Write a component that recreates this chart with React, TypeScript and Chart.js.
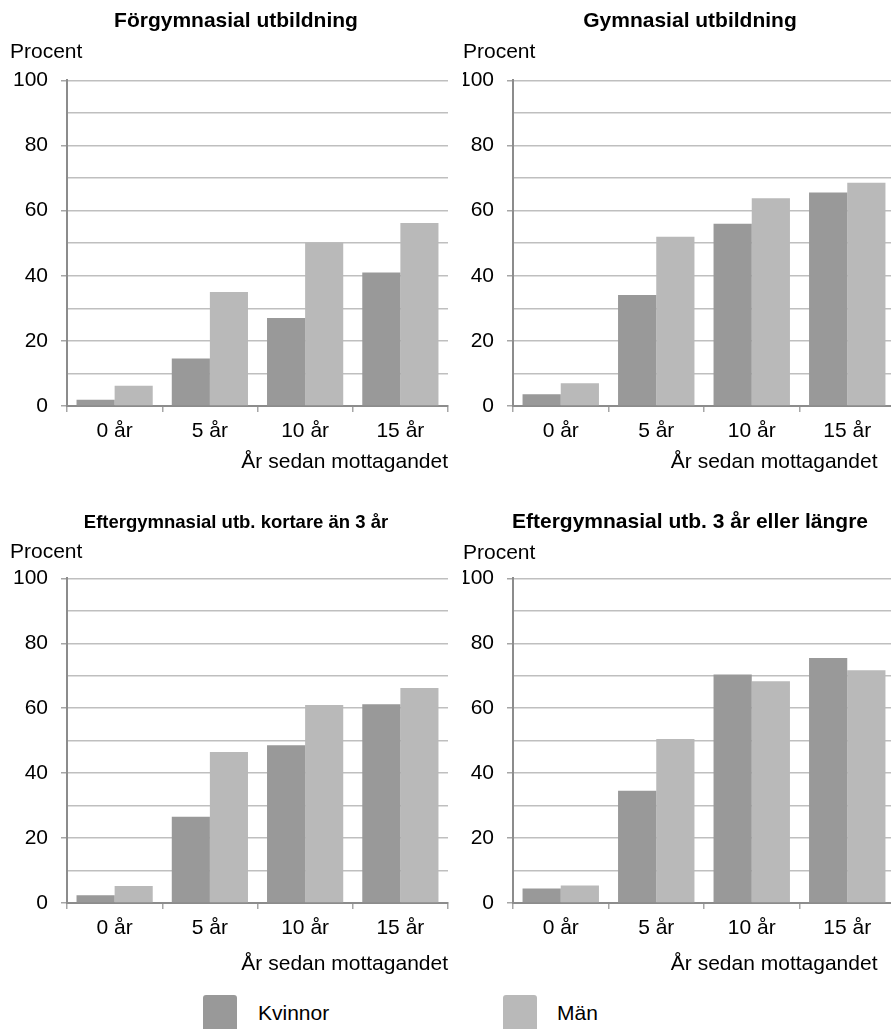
import React, { useEffect, useRef } from "react";
import { Chart, registerables } from "chart.js";

Chart.register(...registerables);

const categories = ["0 år", "5 år", "10 år", "15 år"];
const seriesLabels = ["Kvinnor", "Män"];
const seriesColors = ["#999999", "#b9b9b9"];
const panelTitles = [
  "Förgymnasial utbildning",
  "Gymnasial utbildning",
  "Eftergymnasial utb. kortare än 3 år",
  "Eftergymnasial utb. 3 år eller längre",
];
const forgymnasialKvinnor = [1.9, 14.6, 27.0, 41.0];
const forgymnasialMan = [6.2, 35.0, 50.2, 56.2];
const gymnasialKvinnor = [3.6, 34.1, 56.0, 65.6];
const gymnasialMan = [7.0, 52.0, 63.8, 68.6];
const kortareKvinnor = [2.4, 26.6, 48.6, 61.2];
const kortareMan = [5.2, 46.5, 61.0, 66.2];
const langreKvinnor = [4.5, 34.6, 70.4, 75.5];
const langreMan = [5.4, 50.5, 68.3, 71.7];
const yLabelValues = [0, 20, 40, 60, 80, 100];
const yAxisTitle = "Procent";
const xAxisTitle = "År sedan mottagandet";

const FAMILY = "'Liberation Sans', Arial, sans-serif";
const TEXT_SIZE = 21;

type PanelProps = {
  title: string;
  titleSize: number;
  kvinnor: number[];
  man: number[];
  left: number;
  top: number;
  width: number;
  height: number;
  yAxisWidth: number;
  rightGap: number;
  xAxisHeight: number;
  titlePad: { top: number; bottom: number };
  subPad: { top: number; bottom: number };
  xTitleInset: number;
};

function Panel(p: PanelProps) {
  const ref = useRef<HTMLCanvasElement>(null);
  useEffect(() => {
    const font = { family: FAMILY, size: TEXT_SIZE };
    const xTitleText = xAxisTitle + "\u00a0".repeat(p.xTitleInset);
    const chart = new Chart(ref.current!, {
      type: "bar",
      data: {
        labels: categories,
        datasets: [
          { label: seriesLabels[0], data: p.kvinnor, backgroundColor: seriesColors[0], borderWidth: 0 },
          { label: seriesLabels[1], data: p.man, backgroundColor: seriesColors[1], borderWidth: 0 },
        ],
      },
      options: {
        responsive: false,
        animation: false,
        devicePixelRatio: 1,
        layout: { padding: { left: 10, right: 0, top: 0, bottom: 0 } },
        datasets: { bar: { categoryPercentage: 0.8, barPercentage: 1.0 } },
        plugins: {
          legend: { display: false },
          tooltip: { enabled: false },
          title: {
            display: true,
            text: p.title,
            color: "#000",
            font: { family: FAMILY, size: p.titleSize, weight: "bold" },
            padding: p.titlePad,
          },
          subtitle: {
            display: true,
            text: yAxisTitle,
            align: "start",
            color: "#000",
            font,
            padding: p.subPad,
          },
        },
        scales: {
          x: {
            type: "category",
            offset: true,
            grid: {
              offset: true,
              drawOnChartArea: false,
              drawTicks: true,
              tickLength: 6,
              color: "#a6a6a6",
              lineWidth: 1.5,
            },
            border: { color: "#8c8c8c", width: 2 },
            ticks: { color: "#000", font, padding: 7, maxRotation: 0, autoSkip: false },
            title: {
              display: true,
              text: xTitleText,
              align: "end",
              color: "#000",
              font,
              padding: { top: 0, bottom: 0 },
            },
            afterFit: (s: any) => {
              s.height = p.xAxisHeight;
            },
          },
          y: {
            min: 0,
            max: 100,
            ticks: {
              stepSize: 10,
              color: "#000",
              font,
              padding: 13,
              callback: (v: any) => (yLabelValues.includes(Number(v)) ? String(v) : ""),
            },
            grid: {
              color: "#bfbfbf",
              lineWidth: 1.5,
              tickLength: 6,
              tickColor: (ctx: any) =>
                ctx.tick && yLabelValues.includes(ctx.tick.value) ? "#a6a6a6" : "rgba(0,0,0,0)",
            },
            border: { color: "#8c8c8c", width: 2 },
            afterFit: (s: any) => {
              s.width = p.yAxisWidth;
            },
          },
          y2: {
            position: "right",
            display: true,
            grid: { display: false },
            border: { display: false },
            ticks: { display: false },
            afterFit: (s: any) => {
              s.width = p.rightGap;
            },
          },
        },
      } as any,
    });
    return () => chart.destroy();
  }, []);
  return (
    <canvas
      ref={ref}
      width={p.width}
      height={p.height}
      style={{ position: "absolute", left: p.left, top: p.top, width: p.width, height: p.height }}
    />
  );
}

export default function App() {
  const legendText: React.CSSProperties = {
    position: "absolute",
    top: 1000,
    fontFamily: FAMILY,
    fontSize: TEXT_SIZE,
    lineHeight: "25px",
    color: "#000",
  };
  const legendBox = (left: number, color: string): React.CSSProperties => ({
    position: "absolute",
    left,
    top: 995,
    width: 34,
    height: 36,
    borderRadius: 3,
    background: color,
  });
  return (
    <div
      style={{
        position: "fixed",
        left: 0,
        top: 0,
        width: 891,
        height: 1029,
        overflow: "hidden",
        background: "#fff",
      }}
    >
      <Panel title={panelTitles[0]} titleSize={21} kvinnor={forgymnasialKvinnor} man={forgymnasialMan}
        left={0} top={0} width={462} height={475} yAxisWidth={57} rightGap={14} xAxisHeight={69}
        titlePad={{ top: 9, bottom: 4 }} subPad={{ top: 1, bottom: 16 }} xTitleInset={0} />
      <Panel title={panelTitles[1]} titleSize={21} kvinnor={gymnasialKvinnor} man={gymnasialMan}
        left={453} top={0} width={464} height={475} yAxisWidth={50} rightGap={22} xAxisHeight={69}
        titlePad={{ top: 9, bottom: 4 }} subPad={{ top: 1, bottom: 16 }} xTitleInset={3} />
      <Panel title={panelTitles[2]} titleSize={18.5} kvinnor={kortareKvinnor} man={kortareMan}
        left={0} top={497} width={462} height={480} yAxisWidth={57} rightGap={14} xAxisHeight={74}
        titlePad={{ top: 15, bottom: 4 }} subPad={{ top: 1, bottom: 14 }} xTitleInset={0} />
      <Panel title={panelTitles[3]} titleSize={21} kvinnor={langreKvinnor} man={langreMan}
        left={453} top={497} width={464} height={480} yAxisWidth={50} rightGap={22} xAxisHeight={74}
        titlePad={{ top: 13, bottom: 4 }} subPad={{ top: 1, bottom: 13 }} xTitleInset={3} />
      <div style={legendBox(203, seriesColors[0])} />
      <div style={{ ...legendText, left: 258 }}>{seriesLabels[0]}</div>
      <div style={legendBox(503, seriesColors[1])} />
      <div style={{ ...legendText, left: 557 }}>{seriesLabels[1]}</div>
    </div>
  );
}
